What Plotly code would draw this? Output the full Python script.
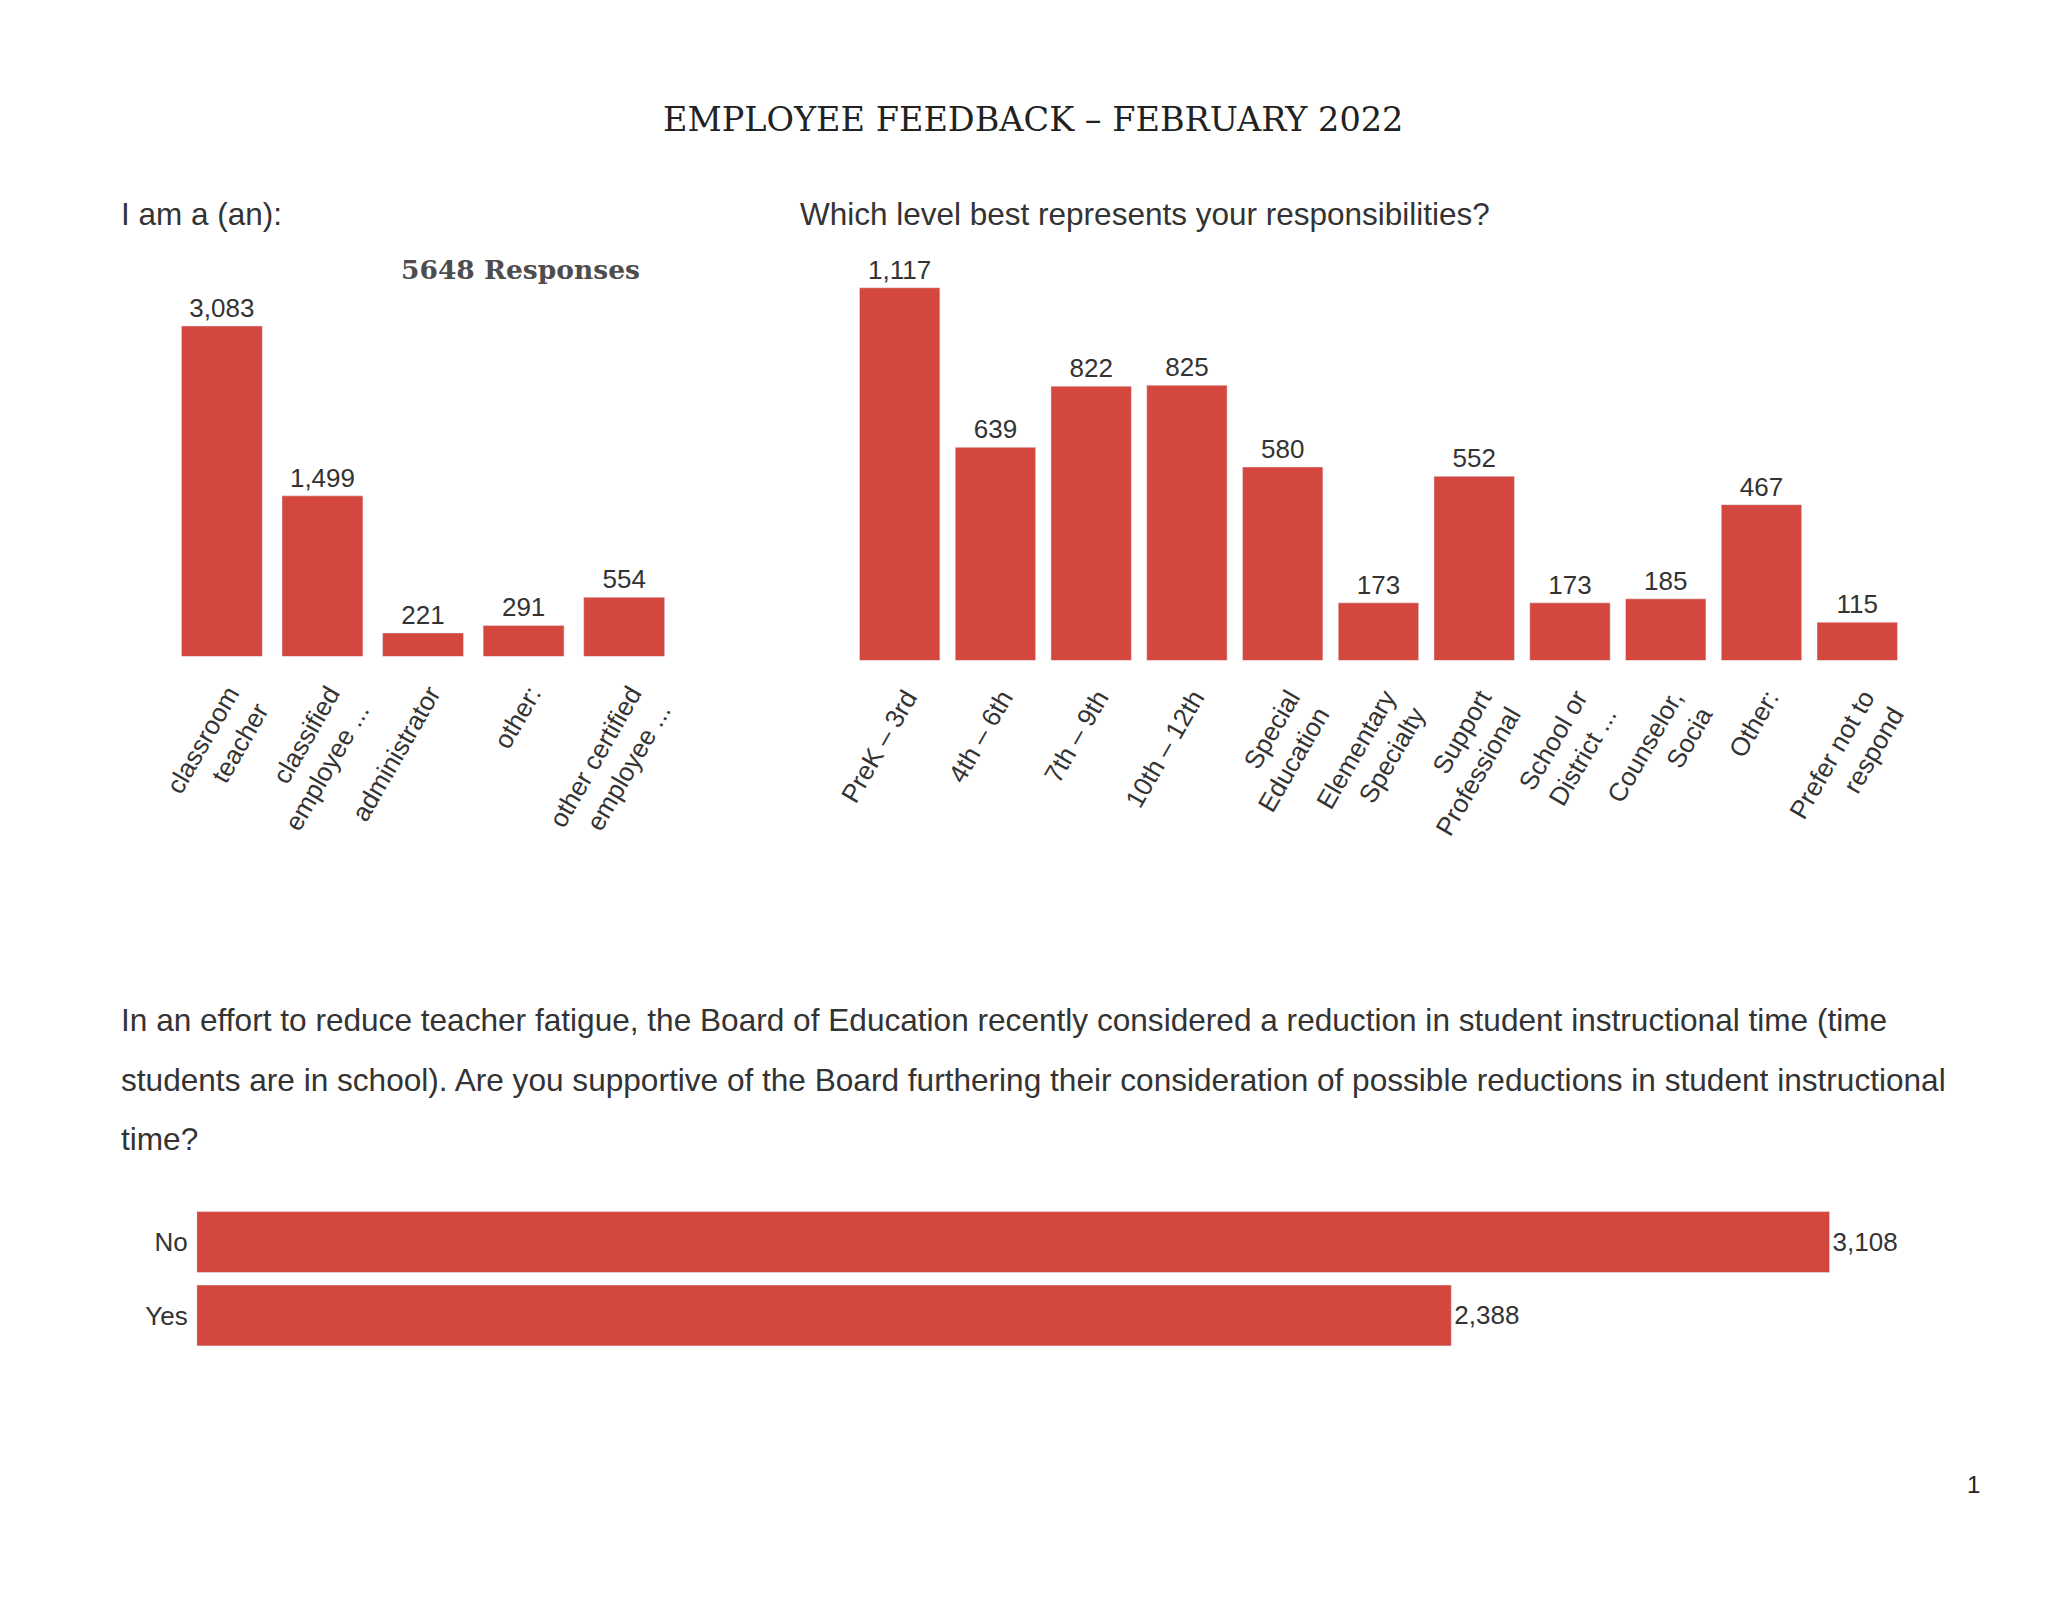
import plotly.graph_objects as go

role_labels = ["classroom<br>teacher", "classified<br>employee ...", "administrator", "other:",
               "other certified<br>employee ..."]
role_counts = [3083, 1499, 221, 291, 554]

level_labels = ["PreK – 3rd", "4th – 6th", "7th – 9th", "10th – 12th", "Special<br>Education",
                "Elementary<br>Specialty", "Support<br>Professional", "School or<br>District ...",
                "Counselor,<br>Socia", "Other:", "Prefer not to<br>respond"]
level_counts = [1117, 639, 822, 825, 580, 173, 552, 173, 185, 467, 115]

support_labels = ["No", "Yes"]
support_counts = [3108, 2388]

BAR = "#D4473F"
TXT = "#333333"
SANS = "Liberation Sans, Arial, sans-serif"
SERIF = "DejaVu Serif, serif"

W, H = 1568.0, 1210.0  # design coords


def fx(x):
    return ((x - 20.2) / 0.988) / W


def fy(y):
    return 1 - (y - 6.5) / H


fig = go.Figure()

fig.add_trace(go.Bar(x=role_labels, y=role_counts, marker_color=BAR, text=[f"{v:,}" for v in role_counts],
                     width=0.805,
                     textposition="outside", textfont=dict(size=26, color=TXT, family=SANS),
                     cliponaxis=False, constraintext="none", xaxis="x", yaxis="y", hoverinfo="skip"))
fig.add_trace(go.Bar(x=level_labels, y=level_counts, marker_color=BAR, text=[f"{v:,}" for v in level_counts],
                     width=0.84,
                     textposition="outside", textfont=dict(size=26, color=TXT, family=SANS),
                     cliponaxis=False, constraintext="none", xaxis="x2", yaxis="y2", hoverinfo="skip"))
fig.add_trace(go.Bar(y=support_labels, x=support_counts, orientation="h", marker_color=BAR,
                     width=0.83,
                     text=[f"{v:,}" for v in support_counts], textposition="outside",
                     textfont=dict(size=26, color=TXT, family=SANS), cliponaxis=False,
                     constraintext="none", xaxis="x3", yaxis="y3", hoverinfo="skip"))

common_hidden = dict(showgrid=False, zeroline=False, showline=False, showticklabels=False, ticks="")

fig.update_layout(
    width=2072, height=1600, autosize=False,
    margin=dict(l=0, r=0, t=0, b=0),
    paper_bgcolor="white", plot_bgcolor="white",
    showlegend=False,
    font=dict(family=SANS, color=TXT, size=26),
    xaxis=dict(domain=[fx(131), fx(511)], showgrid=False, zeroline=False, showline=False, ticks="",
               tickangle=-60, tickfont=dict(size=26, color=TXT, family=SANS), anchor="y",
               ticklabelstandoff=16, ticklabelshift=7),
    yaxis=dict(domain=[fy(497), fy(215)], range=[0, 3477], anchor="x", **common_hidden),
    xaxis2=dict(domain=[fx(645), fx(1441)], showgrid=False, zeroline=False, showline=False, ticks="",
                tickangle=-60, tickfont=dict(size=26, color=TXT, family=SANS), anchor="y2",
                ticklabelstandoff=16, ticklabelshift=7),
    yaxis2=dict(domain=[fy(500), fy(190)], range=[0, 1228], anchor="x2", **common_hidden),
    xaxis3=dict(domain=[fx(150), fx(1480)], range=[0, 3350], anchor="y3", **common_hidden),
    yaxis3=dict(domain=[fy(1023), fy(912)], anchor="x3", showgrid=False, zeroline=False, showline=False,
                ticks="", categoryorder="array", categoryarray=["Yes", "No"], ticklabelstandoff=8,
                tickfont=dict(size=26, color=TXT, family=SANS)),
)

annos = [
    dict(text="EMPLOYEE FEEDBACK – FEBRUARY 2022", x=fx(782), y=fy(91), xanchor="center",
         font=dict(family=SERIF, size=33.5, color="#222222")),
    dict(text="I am a (an):", x=fx(91), y=fy(162), xanchor="left", font=dict(size=31.5)),
    dict(text="Which level best represents your responsibilities?", x=fx(604), y=fy(162), xanchor="left",
         font=dict(size=31.5)),
    dict(text="<b>5648 Responses</b>", x=fx(395), y=fy(204), xanchor="center",
         font=dict(family=SERIF, size=26.5, color="#4d4d4d")),
    dict(text="In an effort to reduce teacher fatigue, the Board of Education recently considered a reduction in student instructional time (time",
         x=fx(91), y=fy(772), xanchor="left", font=dict(size=31.6)),
    dict(text="students are in school). Are you supportive of the Board furthering their consideration of possible reductions in student instructional",
         x=fx(91), y=fy(817), xanchor="left", font=dict(size=31.6)),
    dict(text="time?", x=fx(91), y=fy(862), xanchor="left", font=dict(size=31.6)),
    dict(text="1", x=fx(1493), y=fy(1123), xanchor="center", font=dict(size=24, color="#222222")),
]
for a in annos:
    a.update(xref="paper", yref="paper", yanchor="middle", showarrow=False)
    fig.add_annotation(**a)

fig.write_html("out.html")
